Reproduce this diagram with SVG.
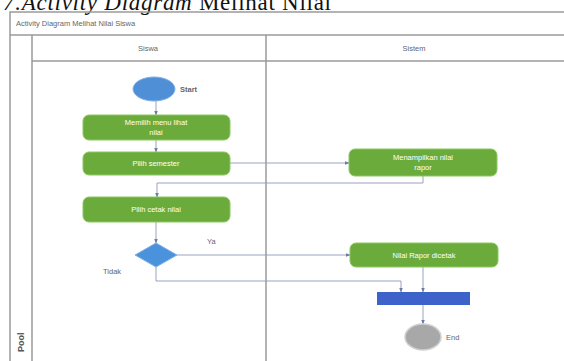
<svg xmlns="http://www.w3.org/2000/svg" width="564" height="361" viewBox="0 0 564 361">
<defs>
<style>
.frame{fill:none;stroke:#9a9a9a;stroke-width:1.5}
.act{fill:#6aab3c;stroke:#8cc860;stroke-width:1}
.at{font-family:"Liberation Sans",Arial,sans-serif;font-size:7.5px;fill:#ffffff;text-anchor:middle}
.lbl{font-family:"Liberation Sans",Arial,sans-serif;font-size:7.5px;fill:#666666}
.conn{fill:none;stroke:#8e96b8;stroke-width:0.9}
</style>
<marker id="ah" viewBox="0 0 10 10" refX="9" refY="5" markerWidth="5" markerHeight="5" orient="auto">
<path d="M0,1 L10,5 L0,9 z" fill="#6c7aa8"/>
</marker>
</defs>
<rect width="564" height="361" fill="#ffffff"/>
<text x="3" y="10" font-family="Liberation Serif,Times New Roman,serif" font-size="23" fill="#111" textLength="328" lengthAdjust="spacing"><tspan font-style="italic">7.Activity Diagram</tspan> Melihat Nilai</text>
<g id="frame">
<rect class="frame" x="10" y="12" width="560" height="360"/>
<line class="frame" x1="10" y1="35" x2="564" y2="35"/>
<line class="frame" x1="32" y1="35" x2="32" y2="361"/>
<line class="frame" x1="266" y1="35" x2="266" y2="361"/>
<line class="frame" x1="32" y1="61" x2="564" y2="61"/>
<text class="lbl" x="16" y="26" font-size="7">Activity Diagram Melihat Nilai Siswa</text>
<text class="lbl" x="148" y="51" text-anchor="middle">Siswa</text>
<text class="lbl" x="414" y="51" text-anchor="middle">Sistem</text>
<text x="24" y="352" transform="rotate(-90 24 352)" font-family="Liberation Sans,Arial,sans-serif" font-size="9" fill="#555" font-weight="bold">Pool</text>
</g>
<g id="connectors">
<line class="conn" x1="156" y1="101" x2="156" y2="115" marker-end="url(#ah)"/>
<line class="conn" x1="156" y1="140" x2="156" y2="152" marker-end="url(#ah)"/>
<line class="conn" x1="230" y1="163" x2="349" y2="163" marker-end="url(#ah)"/>
<polyline class="conn" points="423,176 423,183 157,183 157,197" marker-end="url(#ah)"/>
<line class="conn" x1="156" y1="222" x2="156" y2="243" marker-end="url(#ah)"/>
<line class="conn" x1="177" y1="255" x2="350" y2="255" marker-end="url(#ah)"/>
<polyline class="conn" points="156,267 156,281 401,281 401,292" marker-end="url(#ah)"/>
<line class="conn" x1="423" y1="267" x2="423" y2="292" marker-end="url(#ah)"/>
<line class="conn" x1="423" y1="305" x2="423" y2="324" marker-end="url(#ah)"/>
<text class="lbl" x="207" y="244">Ya</text>
<text class="lbl" x="103" y="274">Tidak</text>
</g>
<g id="start">
<ellipse cx="154" cy="89" rx="21" ry="12" fill="#4f8fd6" stroke="#7fb0e6" stroke-width="1"/>
<text class="lbl" x="180" y="92" fill="#333" font-weight="bold">Start</text>
</g>
<g id="memilih-menu">
<rect class="act" x="83" y="115" width="147" height="25" rx="6"/>
<text class="at" x="156" y="125">Memilih menu lihat</text>
<text class="at" x="156" y="135">nilai</text>
</g>
<g id="pilih-semester">
<rect class="act" x="83" y="152" width="147" height="23" rx="6"/>
<text class="at" x="156" y="166">Pilih semester</text>
</g>
<g id="menampilkan">
<rect class="act" x="349" y="149" width="148" height="27" rx="6"/>
<text class="at" x="423" y="160">Menampilkan nilai</text>
<text class="at" x="423" y="170">rapor</text>
</g>
<g id="pilih-cetak">
<rect class="act" x="83" y="197" width="147" height="25" rx="6"/>
<text class="at" x="156" y="212">Pilih cetak nilai</text>
</g>
<g id="decision">
<polygon points="156,243 177,255 156,267 135,255" fill="#4a92dc" stroke="#7fb0e6" stroke-width="1"/>
</g>
<g id="nilai-dicetak">
<rect class="act" x="350" y="243" width="148" height="24" rx="6"/>
<text class="at" x="424" y="258">Nilai Rapor dicetak</text>
</g>
<g id="join">
<rect x="377" y="292" width="93" height="13" fill="#3d62c9"/>
</g>
<g id="end">
<ellipse cx="423" cy="337" rx="18" ry="13" fill="#a8a8a8" stroke="#d0d0d0" stroke-width="1.5"/>
<text class="lbl" x="446" y="340">End</text>
</g>
</svg>
